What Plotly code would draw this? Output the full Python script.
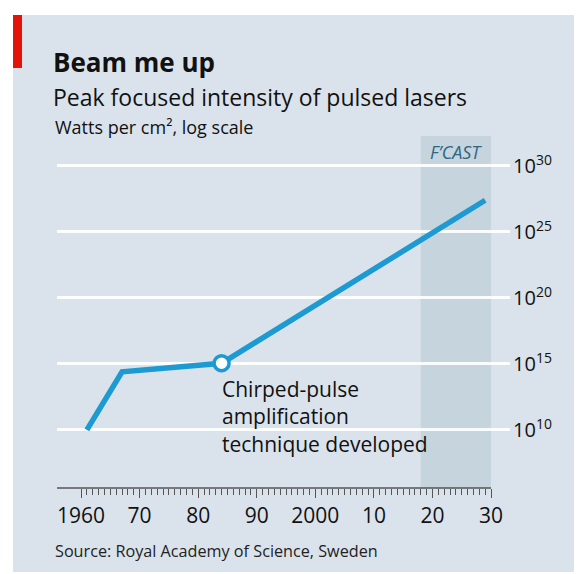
import plotly.graph_objects as go

# ---- data ----
years = [1961, 1967, 1984, 2029]
intensity = [1e10, 10**14.4, 10**15.05, 10**27.4]
cpa_year = [1984]
cpa_value = [10**15.05]
forecast_start, forecast_end = 2018, 2030
x_tick_vals = [1960, 1970, 1980, 1990, 2000, 2010, 2020, 2030]
x_tick_text = ["1960", "70", "80", "90", "2000", "10", "20", "30"]
minor_years = [y for y in range(1960, 2031)]
y_tick_vals = [1e10, 1e15, 1e20, 1e25, 1e30]
y_tick_text = ["10<sup>10</sup>", "10<sup>15</sup>", "10<sup>20</sup>", "10<sup>25</sup>", "10<sup>30</sup>"]

W, H = 582, 574
OFF = 8  # page body margin
L, R, T, B = 57 - OFF, 510 - OFF, 136 - OFF, 488 - OFF  # plot area pixels
FONT = "Open Sans"


def px(x):
    return (x - OFF - L) / (R - L)


def py(y):
    return (B - (y - OFF)) / (B - T)


BLUE = "#1e9ad3"
PANEL = "#dae3eb"
BAND = "#c6d4de"

fig = go.Figure()
fig.add_trace(go.Scatter(x=years, y=intensity, mode="lines",
                         line=dict(color=BLUE, width=5.5), hoverinfo="skip"))
fig.add_trace(go.Scatter(x=cpa_year, y=cpa_value, mode="markers",
                         marker=dict(size=15, color="white", line=dict(color=BLUE, width=3.5)),
                         hoverinfo="skip"))

shapes = [
    # panel background
    dict(type="rect", xref="paper", yref="paper", x0=px(13), x1=px(590), y0=py(572), y1=py(15),
         fillcolor=PANEL, line=dict(width=0), layer="below"),
    # forecast band
    dict(type="rect", xref="x", yref="paper", x0=forecast_start, x1=forecast_end, y0=0, y1=1,
         fillcolor=BAND, line=dict(width=0), layer="below"),
    # red tab
    dict(type="rect", xref="paper", yref="paper", x0=px(13), x1=px(22), y0=py(68), y1=py(15),
         fillcolor="#e3120b", line=dict(width=0), layer="above"),
    # x axis line
    dict(type="line", xref="paper", yref="paper", x0=0, x1=px(491), y0=0, y1=0,
         line=dict(color="#555555", width=1.5), layer="above"),
]

annotations = [
    dict(text="<b>Beam me up</b>", x=px(51), y=py(62), xref="paper", yref="paper",
         xanchor="left", yanchor="middle", showarrow=False,
         font=dict(family=FONT, size=26, color="#111111")),
    dict(text="Peak focused intensity of pulsed lasers", x=px(51), y=py(97), xref="paper", yref="paper",
         xanchor="left", yanchor="middle", showarrow=False,
         font=dict(family=FONT, size=23, color="#111111")),
    dict(text="Watts per cm², log scale", x=px(53), y=py(127), xref="paper", yref="paper",
         xanchor="left", yanchor="middle", showarrow=False,
         font=dict(family=FONT, size=18, color="#111111")),
    dict(text="Source: Royal Academy of Science, Sweden", x=px(53), y=py(551), xref="paper", yref="paper",
         xanchor="left", yanchor="middle", showarrow=False,
         font=dict(family=FONT, size=16.2, color="#222222")),
    dict(text="<i>F’CAST</i>", x=(forecast_start + forecast_end) / 2, y=py(152), xref="x", yref="paper",
         xanchor="center", yanchor="middle", showarrow=False,
         font=dict(family=FONT, size=18, color="#2f6683")),
    dict(text="Chirped-pulse<br>amplification<br>technique developed", x=px(220), y=py(373),
         xref="paper", yref="paper", xanchor="left", yanchor="top", align="left", showarrow=False,
         font=dict(family=FONT, size=21, color="#111111")),
]

fig.update_layout(
    width=W, height=H,
    margin=dict(l=L, r=W - R, t=T, b=H - B, pad=0),
    paper_bgcolor="white", plot_bgcolor="rgba(0,0,0,0)",
    showlegend=False,
    shapes=shapes, annotations=annotations,
    font=dict(family=FONT, color="#111111"),
    xaxis=dict(range=[1955.9, 2033.24], showgrid=False, zeroline=False, showline=False,
               tickmode="array", tickvals=x_tick_vals, ticktext=x_tick_text,
               ticks="outside", ticklen=9, tickwidth=1.2, tickcolor="#555555",
               tickfont=dict(size=21, color="#111111"), ticklabelstandoff=0,
               minor=dict(tickmode="array", tickvals=minor_years, ticks="outside",
                          ticklen=6, tickwidth=1, tickcolor="#555555", showgrid=False)),
    yaxis=dict(type="log", range=[5.6, 32.27], side="right", showline=False, zeroline=False,
               tickmode="array", tickvals=y_tick_vals, ticktext=y_tick_text,
               showgrid=True, gridcolor="rgba(255,255,255,0.9)", gridwidth=3, ticks="",
               tickfont=dict(size=20, color="#111111"), ticklabelstandoff=2),
)

fig.write_html("out.html")
